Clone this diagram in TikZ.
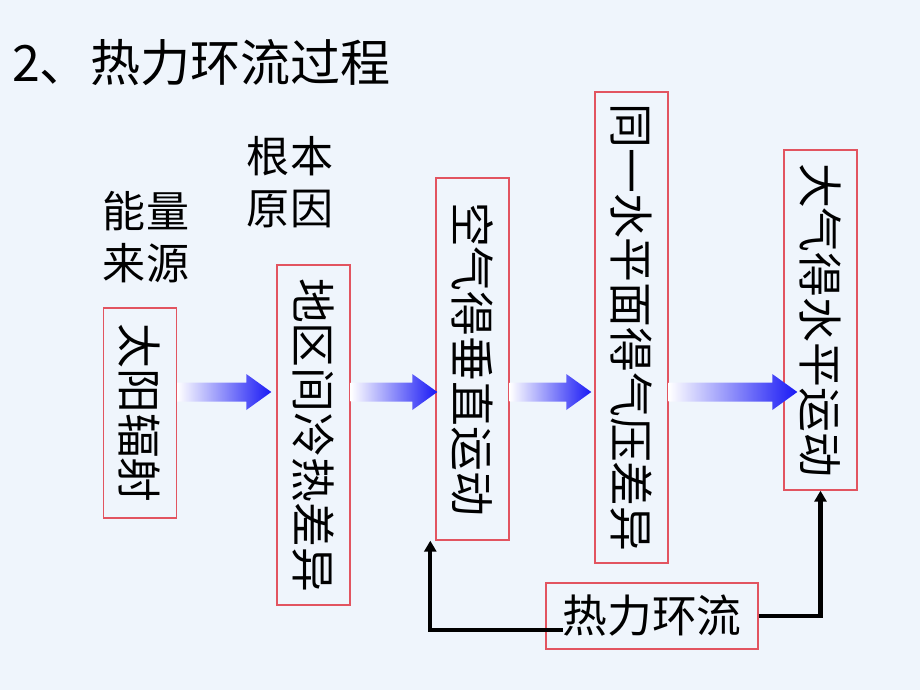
\documentclass[tikz,border=0pt]{standalone}
\usepackage{fontspec}
\usepackage{graphicx}
\newfontfamily\cjk{Noto Sans CJK SC}
\usetikzlibrary{arrows.meta,calc}

\definecolor{slidebg}{RGB}{239,245,252}
\definecolor{boxred}{RGB}{226,84,96}
\definecolor{arrowblue}{RGB}{25,25,245}

\newcommand{\vtext}[1]{\rotatebox{-90}{#1}}
\newcommand{\flowarrow}[2]{%
    \shade[left color=white, right color=arrowblue]
        let \p1=#1, \p2=#2 in
        (\x1,\y2+0.19cm) -- (\x2-0.5cm,\y2+0.19cm) -- (\x2-0.5cm,\y2+0.36cm)
        -- (\x2,\y2) -- (\x2-0.5cm,\y2-0.36cm) -- (\x2-0.5cm,\y2-0.19cm)
        -- (\x1,\y2-0.19cm) -- cycle;}

\begin{document}
\begin{tikzpicture}[x=0.02cm, y=-0.02cm,
    stage/.style={draw=boxred, line width=0.8pt, inner sep=2pt, minimum width=1.46cm,
        font=\cjk\fontsize{25.5}{30}\selectfont},
    loopbox/.style={draw=boxred, line width=0.8pt, inner sep=2pt, minimum width=4.24cm,
        minimum height=1.32cm, font=\cjk\fontsize{25.5}{30}\selectfont},
    loopline/.style={line width=2.3pt, -{Triangle[length=0.22cm,width=0.24cm]}}]
    \fill[slidebg] (0,0) rectangle (920,690);
    \coordinate (mid) at (0,392);

    \node[anchor=west, font=\cjk\fontsize{28.5}{34}\selectfont] (title) at (6,63) {2、热力环流过程};

    \begin{scope}[every node/.style={font=\cjk\fontsize{24.5}{30}\selectfont, align=left}]
        \node (energy) at (146,237) {能量\\来源};
        \node (cause) at (290,182) {根本\\原因};
    \end{scope}

    \node[stage, minimum height=4.2cm] (box_1) at (140,413) {\vtext{太阳辐射}};
    \node[stage, minimum height=6.8cm] (box_2) at (313.5,435) {\vtext{地区间冷热差异}};
    \node[stage, minimum height=7.24cm] (box_3) at (472.5,359) {\vtext{空气得垂直运动}};
    \node[stage, minimum height=9.42cm] (box_4) at (631.5,327.5) {\vtext{同一水平面得气压差异}};
    \node[stage, minimum height=6.8cm] (box_5) at (820.5,320) {\vtext{大气得水平运动}};
    \node[loopbox] (loop) at (652,616) {热力环流};

    % gradient arrows between the stages
    \flowarrow{(box_1.east |- mid)}{($(box_2.west |- mid)+(-5,0)$)}
    \flowarrow{(box_2.east |- mid)}{($(box_3.west |- mid)+(2,0)$)}
    \flowarrow{(box_3.east |- mid)}{($(box_4.west |- mid)+(-3,0)$)}
    \flowarrow{(box_4.east |- mid)}{($(box_5.west |- mid)+(14,0)$)}

    \draw[loopline] ($(loop.center)+(-89,14)$) -| ([xshift=-0.1cm]box_3.south west);
    \draw[loopline] (loop.east) -| (box_5.south);
\end{tikzpicture}
\end{document}
